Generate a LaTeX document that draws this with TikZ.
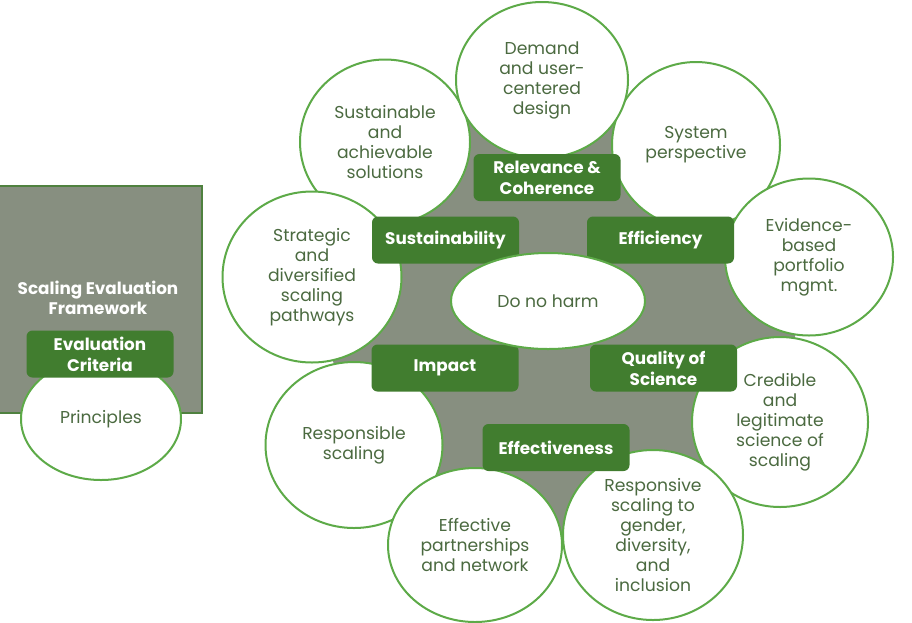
\documentclass[tikz,border=0pt]{standalone}
\usepackage{fontspec}
\setmainfont{Poppins}
\usetikzlibrary{shapes.geometric, backgrounds}
\definecolor{leaf}{HTML}{417D2F}
\definecolor{rim}{HTML}{5DAA48}
\definecolor{moss}{HTML}{878F80}
\definecolor{ink}{HTML}{4B6A40}
\tikzset{
x=1pt, y=-1pt, % one unit per pixel of the sketch, y going down
idea/.style={ellipse, draw=rim, line width=2pt, fill=white, text=ink, align=center, inner sep=0pt, font=\fontsize{17.2}{20}\selectfont}, % white bubbles
crit/.style={rounded corners=6pt, fill=leaf, text=white, align=center, inner sep=0pt, minimum width=147pt, minimum height=47pt, font=\fontsize{16.8}{21}\selectfont\bfseries}, % green criterion boxes
frame/.style={fill=moss, draw=leaf!80!moss, line width=1.5pt}, % grey box on the left
}

\begin{document}
\begin{tikzpicture}
            \useasboundingbox (0,0) rectangle (912,622);

            % legend on the left
            \node[frame, minimum width=206pt, minimum height=227pt] (fw) at (99,299.5) {};
            \node[text=white, align=center, font=\fontsize{16.8}{20}\selectfont\bfseries] (fwtitle) at (98,298) {Scaling Evaluation\\Framework};
            \node[idea, minimum width=160pt, minimum height=122pt] (princ) at (101,419) {Principles};
            \node[crit] (evcrit) at (100,354) {Evaluation\\Criteria};

            % bubbles
            \node[idea, minimum width=170pt, minimum height=165pt] (sol) at (385,142) {Sustainable\\and\\achievable\\solutions};
            \node[idea, minimum width=168pt, minimum height=166pt] (sys) at (696,145) {System\\perspective};
            \node[idea, minimum width=172pt, minimum height=156pt] (dem) at (542,80) {Demand\\and user-\\centered\\design};
            \node[idea, minimum width=179pt, minimum height=171pt] (path) at (312,277) {Strategic\\and\\diversified\\scaling\\pathways};
            \node[idea, minimum width=168pt, minimum height=157pt] (evid) at (809,257) {Evidence-\\based\\portfolio\\mgmt.};
            \node[idea, minimum width=177pt, minimum height=166pt] (resp) at (354,445) {Responsible\\scaling};
            \node[idea, minimum width=176pt, minimum height=170pt] (cred) at (780,422) {Credible\\and\\legitimate\\science of\\scaling};
            \node[idea, minimum width=174pt, minimum height=154pt] (part) at (475,545) {Effective\\partnerships\\and network};
            \node[idea, minimum width=180pt, minimum height=170pt] (gend) at (653,535) {Responsive\\scaling to\\gender,\\diversity,\\and\\inclusion};

            % criteria
            \node[crit] (rel) at (547,177.5) {Relevance \&\\Coherence};
            \node[crit] (sus) at (445.5,240) {Sustainability};
            \node[crit] (eff) at (660.5,240) {Efficiency};
            \node[crit] (imp) at (445,368) {Impact};
            \node[crit] (qos) at (663.5,368) {Quality of\\Science};
            \node[crit] (effv) at (556,447.5) {Effectiveness};

            \node[idea, minimum width=194pt, minimum height=96pt] (harm) at (548,301) {Do no harm};

            % grey core behind the bubbles
            \begin{scope}[on background layer]
                \fill[moss] (sol.center) -- (dem.center) -- (sys.center) -- (evid.center) -- (cred.center)
                    -- (gend.center) -- (part.center) -- (resp.center) -- (path.center) -- cycle;
            \end{scope}
\end{tikzpicture}
\end{document}
